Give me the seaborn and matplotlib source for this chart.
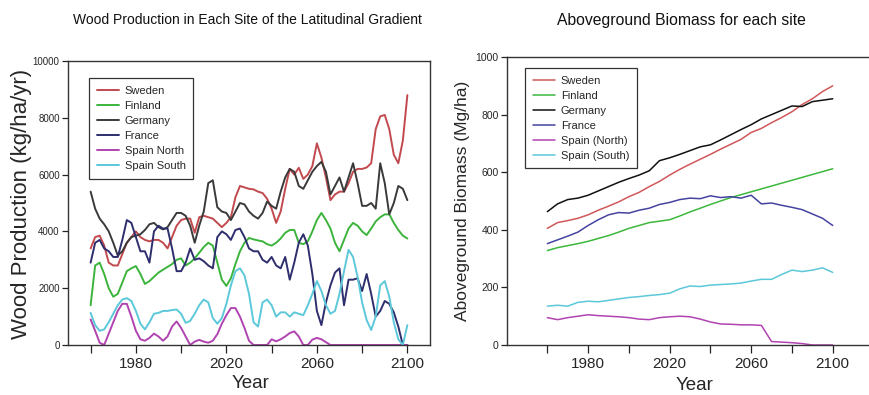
import numpy as np
import pandas as pd
import matplotlib
matplotlib.use("Agg")
import matplotlib.pyplot as plt
from matplotlib.lines import Line2D
import seaborn as sns

# ---------------- data ----------------
years_wp = list(range(1960, 2101, 2))

wp_sweden = [3400, 3800, 3850, 3500, 2900, 2800, 2800, 3200, 3600, 3800,
             4000, 3800, 3700, 3650, 3700, 3700, 3600, 3400, 3800, 4200,
             4400, 4450, 4450, 3950, 4500, 4550, 4500, 4450, 4300, 4150,
             4300, 4500, 5200, 5600, 5550, 5500, 5480, 5400, 5350, 5150,
             4800, 4300, 4700, 5500, 6200, 6000, 6240, 5850, 6000, 6300,
             7100, 6600, 5900, 5100, 5300, 5400, 5400, 5700, 6100, 6200,
             6200, 6250, 6400, 7600, 8050, 8100, 7600, 6700, 6400, 7200,
             8800]
wp_finland = [1400, 2800, 2900, 2500, 2000, 1700, 1800, 2200, 2600, 2700,
              2780, 2500, 2150, 2250, 2400, 2550, 2650, 2750, 2850, 3000,
              3050, 2800, 2900, 3050, 3250, 3450, 3600, 3500, 2900, 2300,
              2080, 2350, 2850, 3300, 3600, 3770, 3720, 3680, 3650, 3550,
              3500, 3600, 3750, 3950, 4050, 4050, 3600, 3550, 3650, 4000,
              4400, 4650, 4400, 4100, 3600, 3300, 3700, 4100, 4300, 4200,
              4000, 3870, 4100, 4350, 4500, 4600, 4600, 4300, 4050, 3850,
              3750]
wp_germany = [5400, 4800, 4450, 4250, 4000, 3600, 3150, 3300, 3600, 3800,
              3850, 3900, 4050, 4250, 4300, 4150, 4070, 4150, 4400, 4650,
              4650, 4550, 4200, 3600, 4200, 4700, 5700, 5800, 4850, 4700,
              4650, 4400, 4700, 5000, 4950, 4700, 4550, 4450, 4650, 5050,
              4900, 4800, 5400, 5900, 6200, 6100, 5600, 5500, 5800, 6100,
              6300, 6450, 6100, 5300, 5600, 5900, 5400, 5900, 6400, 5700,
              4900, 4900, 5000, 4800, 6400, 5700, 4600, 5000, 5600, 5500,
              5100]
wp_france = [2900, 3600, 3700, 3400, 3300, 3100, 3100, 3700, 4400, 4300,
             3800, 3300, 3300, 2900, 4000, 4200, 4100, 4100, 3400, 2600,
             2600, 2900, 3400, 3000, 3050, 2950, 2800, 2700, 3800, 4000,
             3900, 3700, 4050, 4100, 3800, 3400, 3300, 3300, 3000, 2900,
             3100, 2800, 2700, 3100, 2300, 2900, 3600, 3900, 3500, 2500,
             1200, 700, 1500, 2100, 2550, 2700, 1400, 2300, 2300, 2350,
             1900, 2500, 1800, 1000, 1200, 1550, 1450, 1150, 650, 0,
             0]
wp_spain_north = [900, 500, 80, 0, 400, 800, 1200, 1450, 1450, 1000,
                  500, 200, 150, 250, 400, 300, 150, 300, 650, 830,
                  600, 300, 0, 120, 180, 120, 80, 150, 380, 750,
                  1050, 1300, 1300, 1000, 600, 150, 0, 0, 0, 0,
                  200, 130, 200, 300, 420, 480, 300, 0, 0, 190,
                  250, 200, 100, 0, 0, 0, 0, 0, 0, 0,
                  0, 0, 0, 0, 0, 0, 0, 0, 0, 0,
                  0]
wp_spain_south = [1130, 700, 500, 550, 800, 1100, 1400, 1600, 1650, 1550,
                  1200, 750, 550, 800, 1100, 1130, 1200, 1200, 1230, 1250,
                  1100, 780, 850, 1100, 1400, 1600, 1500, 950, 750, 950,
                  1450, 2100, 2600, 2700, 2450, 1800, 800, 650, 1500, 1600,
                  1400, 1000, 1150, 1150, 1000, 1150, 1100, 1050, 1400, 1800,
                  2250, 1900, 1400, 1100, 1200, 1800, 2600, 3350, 3100, 2400,
                  1500, 880, 530, 1000, 2100, 2250, 1700, 800, 200, 0,
                  700]

years_bm = list(range(1960, 2101, 5))
bm_sweden = [405, 425, 432, 440, 452, 468, 482, 497, 515, 530,
             550, 568, 590, 610, 628, 645, 662, 680, 697, 714,
             738, 752, 772, 790, 810, 835, 855, 880, 900]
bm_finland = [328, 338, 345, 352, 360, 370, 380, 392, 405, 415,
              425, 430, 435, 448, 462, 475, 488, 500, 512, 522,
              532, 542, 552, 562, 572, 582, 592, 602, 612]
bm_germany = [463, 490, 505, 510, 520, 535, 550, 565, 578, 590,
              605, 640, 650, 662, 675, 688, 695, 712, 730, 748,
              765, 785, 800, 815, 830, 828, 845, 850, 855]
bm_france = [352, 365, 378, 392, 415, 435, 452, 460, 458, 468,
             475, 488, 495, 505, 510, 508, 518, 512, 515, 510,
             520, 490, 493, 485, 478, 470, 455, 440, 415]
bm_spain_north = [95, 88, 95, 100, 105, 102, 100, 98, 95, 90,
                  88, 95, 98, 100, 98, 90, 80, 73, 72, 70,
                  70, 68, 12, 10, 8, 5, 0, 0, 0]
bm_spain_south = [135, 138, 135, 148, 152, 150, 155, 160, 165, 168,
                  172, 175, 180, 195, 205, 203, 208, 210, 212, 215,
                  222, 228, 228, 245, 260, 255, 260, 268, 252]

wp_sites = ["Sweden", "Finland", "Germany", "France", "Spain North", "Spain South"]
bm_sites = ["Sweden", "Finland", "Germany", "France", "Spain (North)", "Spain (South)"]
wp_series = [wp_sweden, wp_finland, wp_germany, wp_france, wp_spain_north, wp_spain_south]
bm_series = [bm_sweden, bm_finland, bm_germany, bm_france, bm_spain_north, bm_spain_south]

wp_colors = ["#c24a4f", "#3cb43c", "#3a3a3a", "#2e2e6e", "#b044b0", "#5cc8da"]
bm_colors = ["#d0575a", "#3cb83c", "#111111", "#4444a0", "#b044b0", "#5cc8da"]

xtick_vals = [1960, 1980, 2000, 2020, 2040, 2060, 2080, 2100]
xtick_labels = ["", "1980", "", "2020", "", "2060", "", "2100"]

# ---------------- style ----------------
sns.set_style("ticks")
plt.rcParams["font.family"] = ["Liberation Sans", "DejaVu Sans"]

fig = plt.figure(figsize=(8.69, 3.95), dpi=100)
ax1 = fig.add_axes([68 / 869, 1 - 345 / 395, 362 / 869, 284 / 395])
ax2 = fig.add_axes([507 / 869, 1 - 345 / 395, 362 / 869, 288 / 395])


def long_df(years, names, series):
    rows = []
    for n, s in zip(names, series):
        for y, v in zip(years, s):
            rows.append((y, v, n))
    return pd.DataFrame(rows, columns=["Year", "value", "site"])


df1 = long_df(years_wp, wp_sites, wp_series)
df2 = long_df(years_bm, bm_sites, bm_series)

sns.lineplot(data=df1, x="Year", y="value", hue="site", hue_order=wp_sites,
             palette=dict(zip(wp_sites, wp_colors)), lw=1.4, legend=False, ax=ax1)
sns.lineplot(data=df2, x="Year", y="value", hue="site", hue_order=bm_sites,
             palette=dict(zip(bm_sites, bm_colors)), lw=1.1, legend=False, ax=ax2)

ax1.set_xlim(1950, 2110)
ax1.set_ylim(0, 10000)
ax1.set_yticks([0, 2000, 4000, 6000, 8000, 10000])
ax2.set_xlim(1940.2, 2117.8)
ax2.set_ylim(0, 1000)
ax2.set_yticks([0, 200, 400, 600, 800, 1000])

for ax, ysize in ((ax1, 7), (ax2, 7.5)):
    ax.set_xticks(xtick_vals)
    ax.set_xticklabels(xtick_labels)
    ax.tick_params(axis="x", direction="out", length=6, width=0.9, labelsize=11, pad=3, color="#222222")
    ax.tick_params(axis="y", direction="out", length=4, width=0.9, labelsize=ysize, pad=2, color="#222222")
    for sp in ax.spines.values():
        sp.set_visible(True)
        sp.set_color("#333333")
        sp.set_linewidth(1.0)
ax2.spines["right"].set_visible(False)

ax1.set_xlabel("Year", fontsize=13.5, va="center")
ax2.set_xlabel("Year", fontsize=13.5, va="center")
ax1.xaxis.set_label_coords(0.505, -0.134)
ax2.xaxis.set_label_coords(0.519, -0.139)
ax1.set_ylabel("Wood Production (kg/ha/yr)", fontsize=16, va="center")
ax2.set_ylabel("Aboveground Biomass (Mg/ha)", fontsize=12.5, va="center")
ax1.yaxis.set_label_coords(-0.128, 0.495)
ax2.yaxis.set_label_coords(-0.122, 0.5)

fig.text(0.285, 0.949, "Wood Production in Each Site of the Latitudinal Gradient",
         ha="center", va="center", fontsize=10, color="#111111")
fig.text(0.784, 0.949, "Aboveground Biomass for each site",
         ha="center", va="center", fontsize=11.3, color="#111111")


def add_legend(ax, names, colors, anchor, lw):
    handles = [Line2D([0], [0], color=c, lw=lw) for c in colors]
    leg = ax.legend(handles, names, loc="upper left", bbox_to_anchor=anchor,
                    borderaxespad=0, fontsize=8, handlelength=2.0, handletextpad=0.5,
                    labelspacing=0.45, borderpad=0.7, fancybox=False, framealpha=1,
                    edgecolor="#333333")
    leg.get_frame().set_linewidth(0.9)


add_legend(ax1, wp_sites, wp_colors, (0.058, 0.94), 1.4)
add_legend(ax2, bm_sites, bm_colors, (0.05, 0.962), 1.1)

fig.savefig("out.png", dpi=100, facecolor="white")
